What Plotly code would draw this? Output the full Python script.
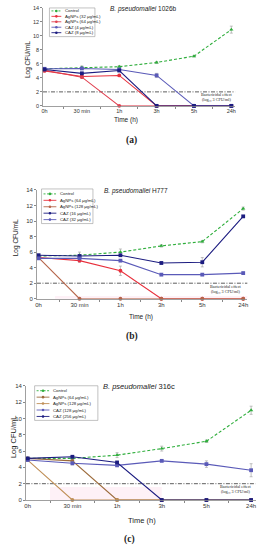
import plotly.graph_objects as go

W, H = 262, 550

times = ["0h", "30 min", "1h", "3h", "5h", "24h"]
ytick_vals = [0, 2, 4, 6, 8, 10, 12, 14]

# ---- Panel (a) B. pseudomallei 1026b ----
a_title = "<i>B. pseudomallei</i> 1026b"
a_names = ["Control", "AgNPs (32 μg/mL)", "AgNPs (64 μg/mL)", "CAZ (4 μg/mL)", "CAZ (8 μg/mL)"]
a_control = [5.3, 5.5, 5.6, 6.2, 7.1, 10.9]
a_control_err = [0.1, 0.2, 0.15, 0.15, 0.1, 0.5]
a_ag1 = [5.0, 4.2, 4.35, 0, 0, 0]
a_ag1_err = [0.1, 0.15, 0.15, 0, 0, 0]
a_ag2 = [5.1, 4.1, 0, 0, 0, 0]
a_ag2_err = [0.1, 0.1, 0, 0, 0, 0]
a_caz1 = [5.3, 5.35, 5.2, 4.35, 0, 0]
a_caz1_err = [0.1, 0.1, 0.1, 0.3, 0, 0]
a_caz2 = [5.2, 4.65, 5.05, 0, 0, 0]
a_caz2_err = [0.1, 0.15, 0.1, 0, 0, 0]

# ---- Panel (b) B. pseudomallei H777 ----
b_title = "<i>B. pseudomallei</i> H777"
b_names = ["Control", "AgNPs (64 μg/mL)", "AgNPs (128 μg/mL)", "CAZ (16 μg/mL)", "CAZ (32 μg/mL)"]
b_control = [5.5, 5.6, 6.0, 6.8, 7.35, 11.6]
b_control_err = [0.2, 0.4, 0.4, 0.15, 0.15, 0.2]
b_ag1 = [5.3, 4.9, 3.6, 0, 0, 0]
b_ag1_err = [0.1, 0.2, 0.6, 0, 0, 0]
b_ag2 = [5.3, 0, 0, 0, 0, 0]
b_ag2_err = [0.1, 0, 0, 0, 0, 0]
b_caz1 = [5.6, 5.5, 5.6, 4.6, 4.7, 10.6]
b_caz1_err = [0.1, 0.2, 0.1, 0.15, 0.6, 0.1]
b_caz2 = [5.2, 5.2, 4.9, 3.1, 3.1, 3.3]
b_caz2_err = [0.1, 0.1, 0.1, 0.1, 0.1, 0.1]

# ---- Panel (c) B. pseudomallei 316c ----
c_title = "<i>B. pseudomallei</i> 316c"
c_names = ["Control", "AgNPs (64 μg/mL)", "AgNPs (128 μg/mL)", "CAZ (128 μg/mL)", "CAZ (256 μg/mL)"]
c_control = [5.1, 5.1, 5.5, 6.3, 7.2, 11.0]
c_control_err = [0.1, 0.15, 0.3, 0.3, 0.15, 0.5]
c_ag1 = [5.1, 4.8, 0, 0, 0, 0]
c_ag1_err = [0.1, 0.1, 0, 0, 0, 0]
c_ag2 = [4.9, 0, 0, 0, 0, 0]
c_ag2_err = [0.1, 0, 0, 0, 0, 0]
c_caz1 = [4.9, 4.5, 4.25, 4.8, 4.4, 3.65]
c_caz1_err = [0.1, 0.2, 0.15, 0.1, 0.4, 0.8]
c_caz2 = [5.1, 5.3, 4.6, 0, 0, 0]
c_caz2_err = [0.1, 0.15, 0.15, 0, 0, 0]

bactericidal_level = 2
bactericidal_text = "Bactericidal effect<br>(log₁₀ 3 CFU/ml)"

def px(x):
    return x / W

def py(y):
    return 1 - y / H

GREEN = "#2fae3c"
RED1 = "#e8303c"
RED2 = "#e04050"
BROWN1 = "#9c6b3c"
BROWN2 = "#c09058"
BLUE_L = "#5a5ab8"
BLUE_D = "#1c1c80"
CTRL_DASH = "3px,2px"

panels = [
    dict(key="", title=a_title, names=a_names,
         series=[(a_control, a_control_err), (a_ag1, a_ag1_err), (a_ag2, a_ag2_err),
                 (a_caz1, a_caz1_err), (a_caz2, a_caz2_err)],
         colors=[GREEN, RED1, RED2, BLUE_L, BLUE_D],
         x0=43, sp=37.8, ytop=5, ybot=104, tick=5.5,
         title_xy=(143, 6), ylab_xy=(27, 57), xlab_xy=(125, 118), cap="(a)", cap_xy=(131, 139),
         bact_xy=(217, 95), leg=dict(box=(48, 5, 94, 34), ys=[8, 13.5, 19, 24.5, 30], lx=(50, 60), tx=62),
         band=None, fs=6.5),
    dict(key="2", title=b_title, names=b_names,
         series=[(b_control, b_control_err), (b_ag1, b_ag1_err), (b_ag2, b_ag2_err),
                 (b_caz1, b_caz1_err), (b_caz2, b_caz2_err)],
         colors=[GREEN, RED1, "#b5654a", BLUE_D, BLUE_L],
         x0=37, sp=41.4, ytop=189, ybot=299, tick=6,
         title_xy=(136, 190), ylab_xy=(15, 237), xlab_xy=(141, 317), cap="(b)", cap_xy=(131, 337),
         bact_xy=(227, 289), leg=dict(box=(40, 188, 92, 223), ys=[193, 199.5, 206, 212.5, 219], lx=(42, 55), tx=57),
         band=(0.4, 5.2, -0.35, 0.35), fs=6.5),
    dict(key="3", title=c_title, names=c_names,
         series=[(c_control, c_control_err), (c_ag1, c_ag1_err), (c_ag2, c_ag2_err),
                 (c_caz1, c_caz1_err), (c_caz2, c_caz2_err)],
         colors=[GREEN, BROWN1, BROWN2, BLUE_L, BLUE_D],
         x0=26, sp=45.2, ytop=387, ybot=502.5, tick=6,
         title_xy=(139, 388), ylab_xy=(11, 438), xlab_xy=(142, 523), cap="(c)", cap_xy=(129, 542),
         bact_xy=(237, 491), leg=dict(box=(33, 387, 97, 422), ys=[392, 398.5, 405, 411.5, 418], lx=(35, 48), tx=50),
         band=(0.5, 3.0, 0, 1.6), fs=7.5),
]

fig = go.Figure()
shapes = []
annotations = []
layout = {}
XR = [-0.04, 5.1]

def note(text, x, y, size, family="Liberation Sans", angle=0, xanchor="center"):
    return dict(text=text, x=px(x), y=py(y), xref="paper", yref="paper", showarrow=False,
                xanchor=xanchor, yanchor="middle", textangle=angle,
                font=dict(family=family, size=size, color="#222"))

for p in panels:
    k = p["key"]
    xa = "x" + k
    ya = "y" + k
    left = p["x0"] + XR[0] * p["sp"]
    right = p["x0"] + XR[1] * p["sp"]
    for i, ((vals, err), col, name) in enumerate(zip(p["series"], p["colors"], p["names"])):
        fig.add_trace(go.Scatter(
            x=times, y=vals, name=name, xaxis=xa, yaxis=ya, showlegend=False,
            mode="lines+markers", cliponaxis=False, hoverinfo="skip",
            line=dict(color=col, width=1.1, dash=CTRL_DASH if i == 0 else "solid"),
            marker=dict(color=col, size=3.8, symbol="triangle-up" if i == 0 else ("circle" if i < 3 else "square")),
            error_y=dict(type="data", array=err, visible=True, thickness=0.6, width=1.5, color="#999"),
        ))
    axis_common = dict(showline=True, linecolor="#888", linewidth=0.8, showgrid=False, zeroline=False,
                       fixedrange=True, tickfont=dict(family="Liberation Sans", size=p["tick"], color="#333"))
    layout["xaxis" + k] = dict(axis_common, type="category", categoryorder="array", categoryarray=times,
                               range=XR, domain=[px(left), px(right)], anchor=ya,
                               ticks="outside", ticklen=2, tickcolor="#888", tickson="boundaries")
    layout["yaxis" + k] = dict(axis_common, range=[0, 14], tickvals=ytick_vals,
                               domain=[py(p["ybot"]), py(p["ytop"])], anchor=xa,
                               ticks="outside", ticklen=2, tickcolor="#888")
    shapes.append(dict(type="line", xref=xa + " domain", yref=ya, x0=0, x1=1,
                       y0=bactericidal_level, y1=bactericidal_level,
                       line=dict(color="#333", width=0.8, dash="4px,1.5px,1px,1.5px"), layer="below"))
    if p["band"]:
        bx0, bx1, by0, by1 = p["band"]
        shapes.append(dict(type="rect", xref=xa, yref=ya, x0=bx0, x1=bx1, y0=by0, y1=by1,
                           fillcolor="rgba(250,200,222,0.25)", line=dict(width=0), layer="below"))
    annotations.append(note(bactericidal_text, *p["bact_xy"], 4.2, family="Liberation Serif"))
    annotations.append(note(p["title"], *p["title_xy"], p["fs"]))
    annotations.append(note("Log CFU/mL", *p["ylab_xy"], p["fs"], angle=-90))
    annotations.append(note("Time (h)", *p["xlab_xy"], p["fs"]))
    annotations.append(note("<b>" + p["cap"] + "</b>", *p["cap_xy"], 9.5, family="Liberation Serif"))
    lg = p["leg"]
    bx0, by0, bx1, by1 = lg["box"]
    shapes.append(dict(type="rect", xref="paper", yref="paper", x0=px(bx0), x1=px(bx1), y0=py(by1), y1=py(by0),
                       line=dict(color="#999", width=0.6), fillcolor="white", layer="above"))
    for i, (yy, col, name) in enumerate(zip(lg["ys"], p["colors"], p["names"])):
        lx0, lx1 = lg["lx"]
        shapes.append(dict(type="line", xref="paper", yref="paper", x0=px(lx0), x1=px(lx1), y0=py(yy), y1=py(yy),
                           line=dict(color=col, width=0.9, dash="2px,1.5px" if i == 0 else "solid"), layer="above"))
        mx = (lx0 + lx1) / 2
        r = 1.3
        shapes.append(dict(type="circle", xref="paper", yref="paper", x0=px(mx - r), x1=px(mx + r),
                           y0=py(yy + r), y1=py(yy - r), fillcolor=col, line=dict(width=0), layer="above"))
        annotations.append(note(name, lg["tx"], yy, 4.3, xanchor="left"))

fig.update_layout(
    width=W, height=H, margin=dict(l=0, r=0, t=0, b=0),
    paper_bgcolor="white", plot_bgcolor="white", showlegend=False,
    hovermode=False, dragmode=False,
    shapes=shapes, annotations=annotations, **layout,
)

fig.write_html("out.html", config={"displayModeBar": False, "staticPlot": True},
               post_script="document.body.style.margin='0px';document.body.style.overflow='hidden';")
